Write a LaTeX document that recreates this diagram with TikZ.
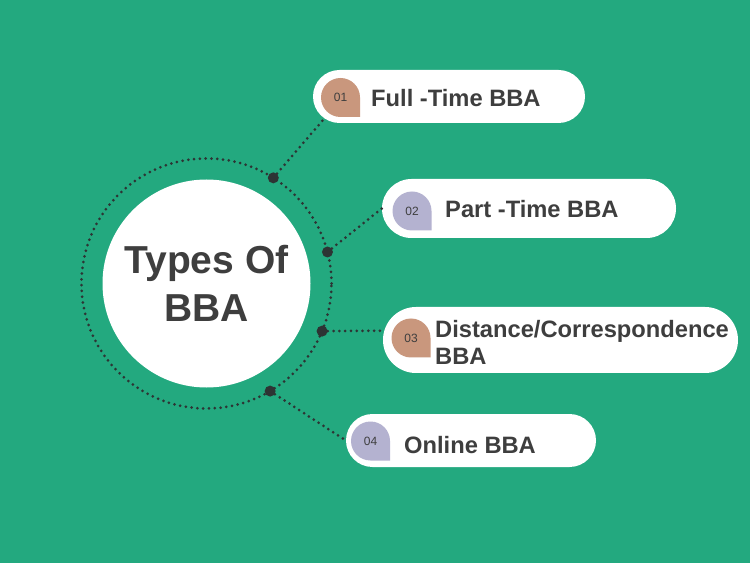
\documentclass[tikz,border=0pt]{standalone}
\usepackage{fontspec}
\setmainfont{Liberation Sans}
\usetikzlibrary{positioning,calc,shapes.misc}
\definecolor{bggreen}{RGB}{35,169,127}
\definecolor{badgetan}{RGB}{201,151,125}
\definecolor{badgelilac}{RGB}{180,178,208}
\definecolor{darkgrey}{RGB}{62,62,62}
\definecolor{dotgrey}{RGB}{45,52,52}

\begin{document}
\begin{tikzpicture}[x=1pt, y=1pt,
  every node/.style={text=darkgrey},
  pill/.style={rounded rectangle, fill=white, inner sep=0pt},
  dotline/.style={dotgrey, line width=3pt, line cap=round, dash pattern=on 0pt off 5.8pt},
  knob/.style={circle, fill=dotgrey, inner sep=0pt, minimum size=11pt},
  num/.style={inner sep=0pt, font=\fontsize{12}{14}\selectfont},
  item/.style={anchor=base west, inner sep=0pt, font=\bfseries\fontsize{23.7}{27.7}\selectfont}]
\useasboundingbox (0,0) rectangle (750,563);
\fill[bggreen] (0,0) rectangle (750,563);

% centre
\node[circle, fill=white, minimum size=208pt, align=center, font=\bfseries\fontsize{39}{47.7}\selectfont] (main) at (206.5,279.5) {Types Of\\BBA};
\draw[dotline] (main.center) circle (125);

% boxes
\node[pill, minimum width=272pt, minimum height=53pt] (full) at (449,466.5) {};
\node[pill, minimum width=294pt, minimum height=59pt] (part) at (529,354.5) {};
\node[pill, minimum width=355pt, minimum height=66pt] (dist) at (560.5,223) {};
\node[pill, minimum width=250pt, minimum height=53pt] (online) at (471,122.5) {};

% knobs on the ring
\node[knob] (d1) at ($(main.center)+(57.7:125)$) {};
\node[knob] (d2) at ($(main.center)+(14.6:125)$) {};
\node[knob] (d3) at ($(main.center)+(-22.4:125)$) {};
\node[knob] (d4) at ($(main.center)+(-59.4:125)$) {};
\draw[dotline] (d1) -- (full.190);
\draw[dotline] (d2) -- (part.west);
\draw[dotline] (d3) -- (dist.177);
\draw[dotline] (d4) -- (online.west);

% badges
\coordinate (b1) at (340.5,465.5);
\coordinate (b2) at (412,352);
\coordinate (b3) at (411,225);
\coordinate (b4) at (370.5,122);
\fill[badgetan] (b1) circle (19.5) (b1) rectangle ++(19.5,-19.5);
\fill[badgelilac] (b2) circle (19.5) (b2) rectangle ++(19.5,-19.5);
\fill[badgetan] (b3) circle (19.5) (b3) rectangle ++(19.5,-19.5);
\fill[badgelilac] (b4) circle (19.5) (b4) rectangle ++(19.5,-19.5);
\node[num] (n1) at (b1) {01};
\node[num] (n2) at (b2) {02};
\node[num] (n3) at (b3) {03};
\node[num] (n4) at (b4) {04};

% labels
\node[item] (t1) at (371,456.5) {Full -Time BBA};
\node[item] (t2) at (445,345.5) {Part -Time BBA};
\node[item, align=left] (t3) at (435,198) {Distance/Correspondence\\BBA};
\node[item] (t4) at (404,109.7) {Online BBA};
\end{tikzpicture}
\end{document}
